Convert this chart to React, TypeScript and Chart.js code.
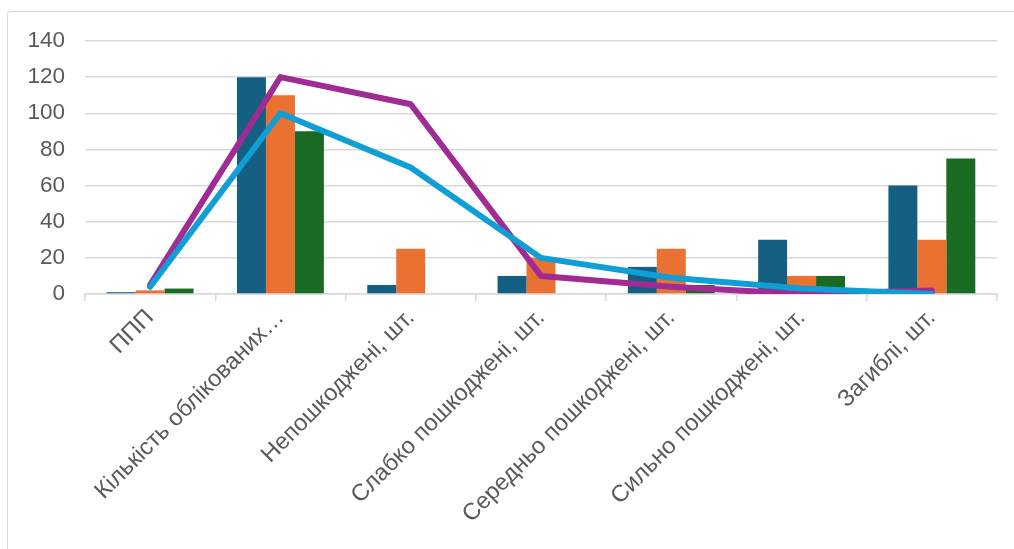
import React, { useEffect, useRef } from "react";
import { Chart, registerables } from "chart.js";

Chart.register(...registerables);

const categories = [
  "ППП",
  "Кількість облікованих…",
  "Непошкоджені, шт.",
  "Слабко пошкоджені, шт.",
  "Середньо пошкоджені, шт.",
  "Сильно пошкоджені, шт.",
  "Загиблі, шт.",
];

const barSeries1 = [1, 120, 5, 10, 15, 30, 60];
const barSeries2 = [2, 110, 25, 20, 25, 10, 30];
const barSeries3 = [3, 90, 0, 0, 5, 10, 75];
const lineSeries1 = [4, 100, 70, 20, 9, 3, 0];
const lineSeries2 = [5, 120, 105, 10, 4, 0, 2];

const barColors = ["#156082", "#E97132", "#196B24"];
const lineColors = ["#0F9ED5", "#A02B93"];

export default function App() {
  const ref = useRef<HTMLCanvasElement | null>(null);

  useEffect(() => {
    document.body.style.margin = "0";
    const ctx = ref.current!.getContext("2d")!;
    const barDs = (label: string, data: number[], color: string) => ({
      type: "bar" as const,
      label,
      data,
      backgroundColor: color,
      borderWidth: 0,
      categoryPercentage: 0.667,
      barPercentage: 1,
      order: 2,
    });
    const lineDs = (label: string, data: number[], color: string) => ({
      type: "line" as const,
      label,
      data,
      borderColor: color,
      backgroundColor: color,
      borderWidth: 6,
      pointRadius: 0,
      tension: 0,
      borderCapStyle: "round" as const,
      borderJoinStyle: "round" as const,
      order: 1,
    });
    const chart = new Chart(ctx, {
      type: "bar",
      data: {
        labels: categories,
        datasets: [
          lineDs("Ряд 4", lineSeries1, lineColors[0]),
          lineDs("Ряд 5", lineSeries2, lineColors[1]),
          barDs("Ряд 1", barSeries1, barColors[0]),
          barDs("Ряд 2", barSeries2, barColors[1]),
          barDs("Ряд 3", barSeries3, barColors[2]),
        ],
      },
      options: {
        animation: false,
        responsive: false,
        maintainAspectRatio: false,
        layout: { padding: { top: 41, right: 17, left: 0, bottom: 0 } },
        plugins: {
          legend: { display: false },
          tooltip: { enabled: false },
        },
        scales: {
          x: {
            offset: true,
            grid: {
              display: true,
              offset: true,
              drawOnChartArea: false,
              drawTicks: true,
              tickLength: 7,
              color: "#d9d9d9",
              lineWidth: 1.5,
            },
            border: { display: true, color: "#d9d9d9", width: 1.5 },
            ticks: {
              autoSkip: false,
              maxRotation: 45,
              minRotation: 45,
              color: "#595959",
              padding: 3,
              font: { family: "'Liberation Sans', Arial, sans-serif", size: 23.5 },
            },
            afterFit: (scale: any) => {
              scale.height = 255;
            },
          },
          y: {
            min: 0,
            max: 140,
            ticks: {
              stepSize: 20,
              color: "#595959",
              padding: 20,
              font: { family: "'Liberation Sans', Arial, sans-serif", size: 22.5 },
            },
            grid: {
              color: "#d9d9d9",
              lineWidth: 1.5,
              drawTicks: false,
            },
            border: { display: false },
            afterFit: (scale: any) => {
              scale.width = 85;
            },
          },
        },
      },
    });
    return () => chart.destroy();
  }, []);

  return (
    <div style={{ position: "relative", width: 1014, height: 549, overflow: "hidden", background: "#fff" }}>
      <div
        style={{
          position: "absolute",
          left: 7,
          top: 11,
          width: 1020,
          height: 600,
          border: "1.5px solid #d9d9d9",
          borderRadius: 3,
          boxSizing: "border-box",
        }}
      />
      <canvas
        ref={ref}
        width={1014}
        height={549}
        style={{ position: "absolute", left: 0, top: 0, width: 1014, height: 549 }}
      />
    </div>
  );
}
